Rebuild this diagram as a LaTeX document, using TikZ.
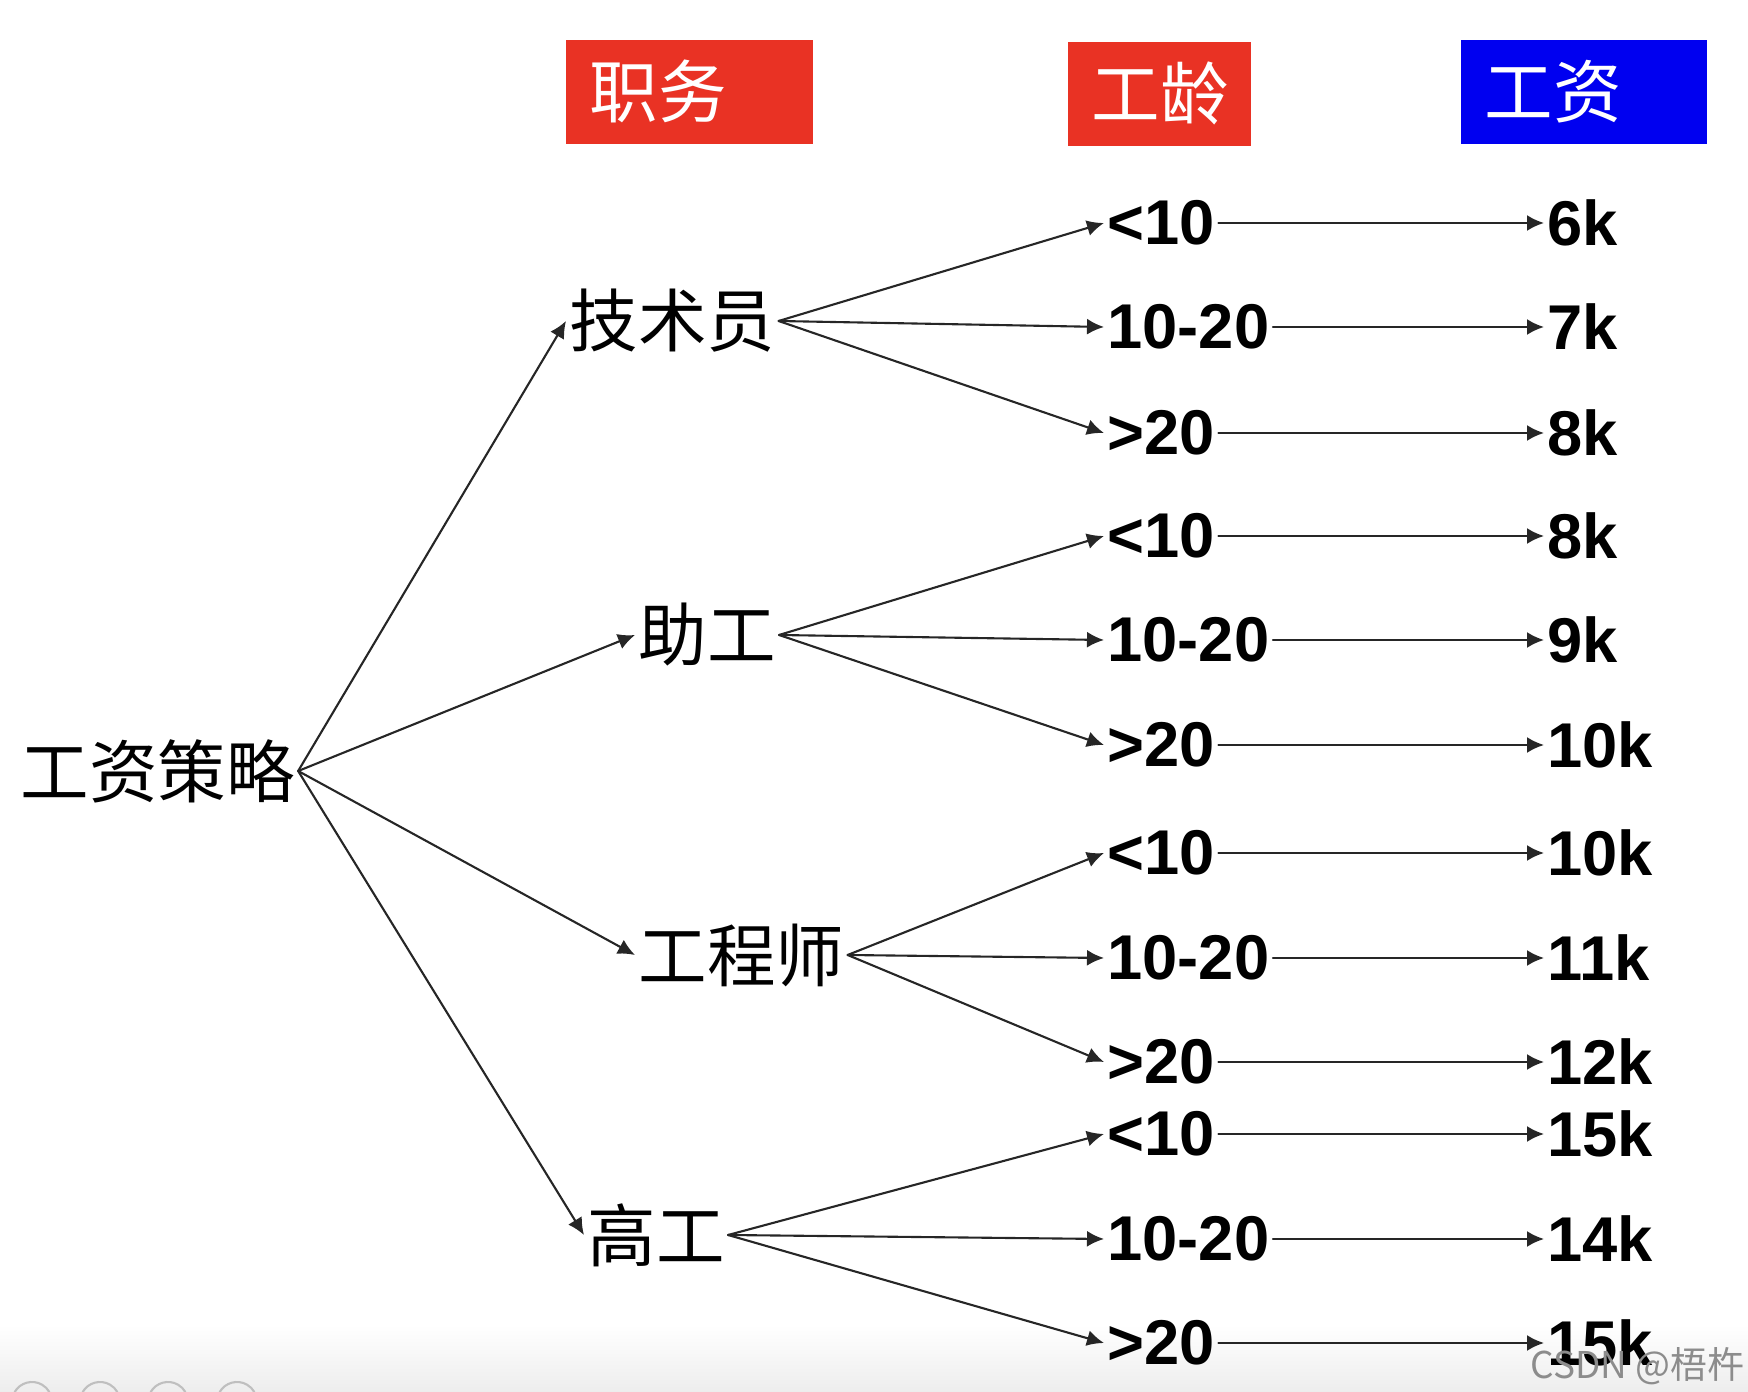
\documentclass[tikz,border=0pt]{standalone}
\usepackage{fontspec}
\setmainfont{Liberation Sans}
\newfontfamily\cjk{Noto Sans CJK SC}
\usetikzlibrary{arrows.meta}
\definecolor{hdrred}{RGB}{233,50,36}
\definecolor{hdrblue}{RGB}{0,0,240}

\begin{document}
\begin{tikzpicture}[line cap=round,line join=round,
  cn/.style={font=\cjk\fontsize{19.5pt}{20pt}\selectfont,inner sep=0.8pt,anchor=west},
  num/.style={font=\bfseries\fontsize{18pt}{20pt}\selectfont,inner sep=0.8pt,anchor=west},
  hdr/.style={cn,text=white,anchor=north west,minimum height=1.04cm,inner xsep=0.24cm,align=left},
  arr/.style={-{Latex[length=1.7mm,width=1.6mm]},line width=0.6pt,black!85}]
  \useasboundingbox (0,0) rectangle (17.48,-13.92);
  \shade[top color=white,bottom color=black!7] (0,-13.25) rectangle (17.48,-13.92);
  \foreach \x in {0.32,1.0,1.68,2.37} \draw[black!25,line width=0.6pt] (\x-0.173,-13.92) arc (150:30:0.2);
  % headers
  \node[hdr,fill=hdrred,text width=1.99cm] (zw) at (5.65,-0.39) {职务};
  \node[hdr,fill=hdrred,text width=1.35cm] (gl) at (10.67,-0.41) {工龄};
  \node[hdr,fill=hdrblue,text width=1.98cm] (gz) at (14.60,-0.39) {工资};
  % root and posts
  \node[cn] (root) at (0.17,-7.71) {工资策略};
  \node[cn] (js) at (5.66,-3.21) {技术员};
  \node[cn] (zg) at (6.35,-6.35) {助工};
  \node[cn] (gcs) at (6.35,-9.55) {工程师};
  \node[cn] (gg) at (5.84,-12.35) {高工};
  \foreach \p in {js,zg,gcs,gg} \draw[arr] (root.east) -- (\p.west);
  % years and pay
  \foreach \p/\ya/\yb/\yc/\sa/\sb/\sc [count=\g] in {js/2.23/3.27/4.33/6k/7k/8k,
      zg/5.36/6.40/7.45/8k/9k/10k, gcs/8.53/9.58/10.62/10k/11k/12k, gg/11.34/12.39/13.43/15k/14k/15k}{
    \node[num] (lo\g) at (11.04,-\ya) {<10};
    \node[num] (md\g) at (11.04,-\yb) {10-20};
    \node[num] (hi\g) at (11.04,-\yc) {>20};
    \node[num] (sa\g) at (15.44,-\ya) {\sa};
    \node[num] (sb\g) at (15.44,-\yb) {\sb};
    \node[num] (sc\g) at (15.44,-\yc) {\sc};
    \foreach \r in {lo,md,hi} \draw[arr] (\p.east) -- (\r\g.west);
    \draw[arr] (lo\g) -- (sa\g); \draw[arr] (md\g) -- (sb\g); \draw[arr] (hi\g) -- (sc\g);
  }
  \node[font=\cjk\fontsize{10.5pt}{11pt}\selectfont,text=black!45,anchor=east,inner sep=0pt] (wm) at (17.45,-13.66) {CSDN @梧杵};
\end{tikzpicture}
\end{document}
